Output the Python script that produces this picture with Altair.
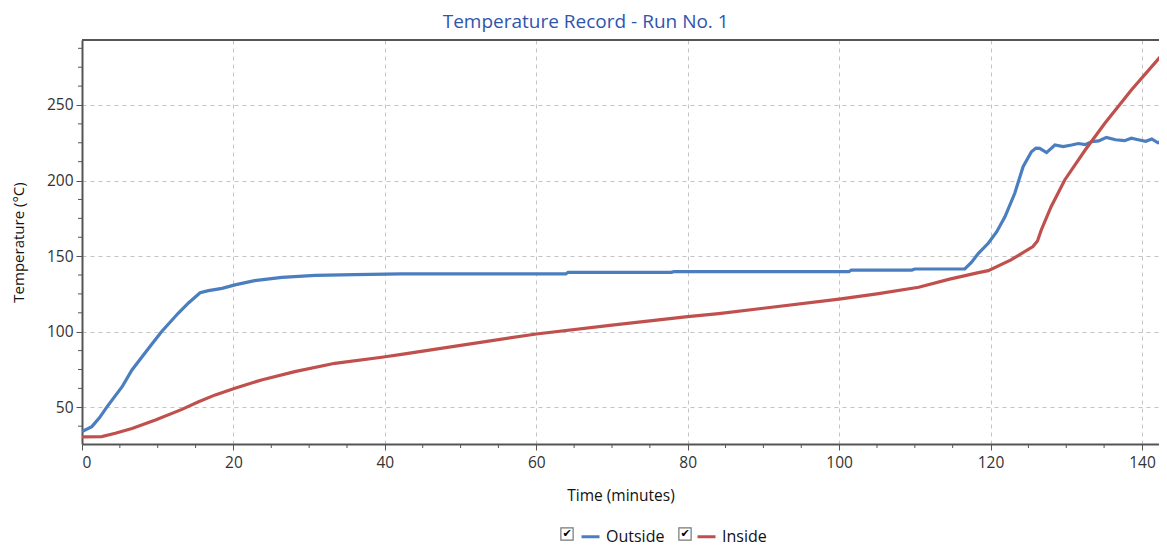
import altair as alt
import pandas as pd

# ---------------- data ----------------
out_t = [0, 1.3, 2.3, 3.3, 5.3, 6.6, 8.8, 10.5, 12.7, 14.1,
         15.6, 16.7, 18.5, 20.2, 22.8, 26.4, 30.8, 36, 42.2, 52,
         63.9, 64.2, 77.8, 78.2, 90, 101.3, 101.6, 109.6, 110, 116.6,
         117.5, 118.4, 119.7, 120.8, 121.9, 123.2, 124.3, 125.4, 126.0, 126.5,
         127.4, 128.5, 129.6, 130.7, 131.6, 132.5, 133.3, 134.3, 135.3, 136.5,
         137.7, 138.6, 139.5, 140.5, 141.3, 142.1, 143.3]
out_v = [33.9, 37.2, 43, 50.3, 63.6, 74.7, 89, 100, 112.2, 119.2,
         125.8, 127.2, 128.7, 131, 133.8, 136, 137.3, 137.8, 138.2, 138.2,
         138.2, 139.3, 139.3, 139.7, 139.7, 139.7, 140.8, 140.8, 141.5, 141.5,
         146, 151.9, 158.5, 166, 176, 191.6, 209.2, 219.1, 221.5, 221.3,
         218.5, 223.5, 222.5, 223.5, 224.5, 223.8, 225.7, 226.2, 228.6, 227,
         226.4, 228, 227, 226, 227.5, 225, 228]

in_t = [0, 2.6, 4.4, 6.6, 9.7, 13.2, 15.4, 17.6, 20.2, 23.7,
        28.1, 33.4, 39.6, 42.2, 50, 60, 70, 80, 84.1, 90,
        100, 105, 110.5, 114.6, 118.4, 119.7, 122.7, 125.6, 126.2, 126.7,
        128, 129.8, 132.5, 135.1, 138.6, 143.3]
in_v = [30.4, 30.6, 32.8, 36, 41.6, 48.6, 53.7, 58.2, 62.6, 68.1,
        73.6, 79.1, 83.1, 85, 91, 98.5, 104.3, 110, 112, 115.5,
        121.5, 125, 129.4, 134.8, 139.1, 140.4, 147.5, 156.3, 160, 167.3,
        182.7, 200.4, 220.2, 237.9, 259.9, 287]

series = ["Outside", "Inside"]
colors = ["#4a7ebf", "#c0504d"]

x_ticks = [0, 20, 40, 60, 80, 100, 120, 140]
y_ticks = [50, 100, 150, 200, 250]
x_minor = [v for v in [i * 5 for i in range(29)] if v % 20 != 0 and v < 142]
y_minor = [v for v in [25 + i * 12.5 for i in range(22)] if v % 50 != 0 and 25.7 < v < 293]

x_domain = [0, 142.25]
y_domain = [25.7, 293]

df = pd.concat([
    pd.DataFrame({"t": out_t, "temp": out_v, "series": "Outside", "ord": range(len(out_t))}),
    pd.DataFrame({"t": in_t, "temp": in_v, "series": "Inside", "ord": range(len(in_t))}),
])

FONT = "Open Sans"
W, H = 1077, 404

xs = alt.Scale(domain=x_domain, nice=False, zero=False)
ys = alt.Scale(domain=y_domain, nice=False, zero=False)

lines = alt.Chart(df).mark_line(strokeWidth=3.2, clip=True).encode(
    x=alt.X("t:Q", scale=xs, axis=alt.Axis(
        values=x_ticks, title="Time (minutes)", grid=True, gridDash=[4, 4],
        gridColor="#c4c4c4", tickSize=6, tickColor="#555", domainColor="#555",
        domainWidth=2, labelFontSize=15.5, labelColor="#333", labelPadding=5,
        titleFontSize=15.5, titleFontWeight="normal", titleColor="#111", titlePadding=18,
        labelFont=FONT, titleFont=FONT)),
    y=alt.Y("temp:Q", scale=ys, axis=alt.Axis(
        values=y_ticks, title="Temperature (°C)", grid=True, gridDash=[4, 4],
        gridColor="#c4c4c4", tickSize=6, tickColor="#555", domainColor="#555",
        domainWidth=2, labelFontSize=15.5, labelColor="#333", labelPadding=3,
        titleFontSize=15, titleFontWeight="normal", titleColor="#111", titlePadding=20,
        labelFont=FONT, titleFont=FONT)),
    color=alt.Color("series:N", scale=alt.Scale(domain=series, range=colors),
                    legend=alt.Legend(orient="none", legendX=498, legendY=486,
                                      direction="horizontal", title=None,
                                      symbolType="stroke", symbolStrokeWidth=3,
                                      symbolSize=324, labelFontSize=16, labelFont=FONT,
                                      labelColor="#111", columnPadding=26, padding=0,
                                      labelOffset=5)),
    order="ord:Q",
)

xm = alt.Chart(pd.DataFrame({"v": x_minor})).mark_rule(color="#555", strokeWidth=1).encode(
    x=alt.X("v:Q", scale=xs), y=alt.value(H), y2=alt.value(H + 4))
ym = alt.Chart(pd.DataFrame({"v": y_minor})).mark_rule(color="#555", strokeWidth=1).encode(
    y=alt.Y("v:Q", scale=ys), x=alt.value(-4), x2=alt.value(0))
top = alt.Chart(pd.DataFrame({"v": [0]})).mark_rule(color="#555", strokeWidth=2).encode(
    x=alt.value(0), x2=alt.value(W), y=alt.value(0))

cb = pd.DataFrame({"cx": [485, 603]})
boxes = alt.Chart(cb).mark_square(size=150, fill="white", stroke="#777", strokeWidth=1.2, opacity=1).encode(
    x=alt.X("cx:Q", scale=None), y=alt.value(494))
checks = alt.Chart(cb).mark_text(text="✔", fontSize=11, color="#000", font="DejaVu Sans").encode(
    x=alt.X("cx:Q", scale=None), y=alt.value(494))

chart = alt.layer(lines, xm, ym, top, boxes, checks).properties(
    width=W, height=H,
    autosize=alt.AutoSizeParams(type="none"),
    padding={"left": 74, "top": 32, "right": 0, "bottom": 102},
    title=alt.TitleParams("Temperature Record - Run No. 1", fontSize=19, font=FONT,
                          fontWeight="normal", color="#2f55ad", frame="bounds",
                          anchor="middle", offset=7),
).configure_view(strokeWidth=0).configure(background="white")

chart.save("out.html", embed_options={"renderer": "svg", "actions": False})
